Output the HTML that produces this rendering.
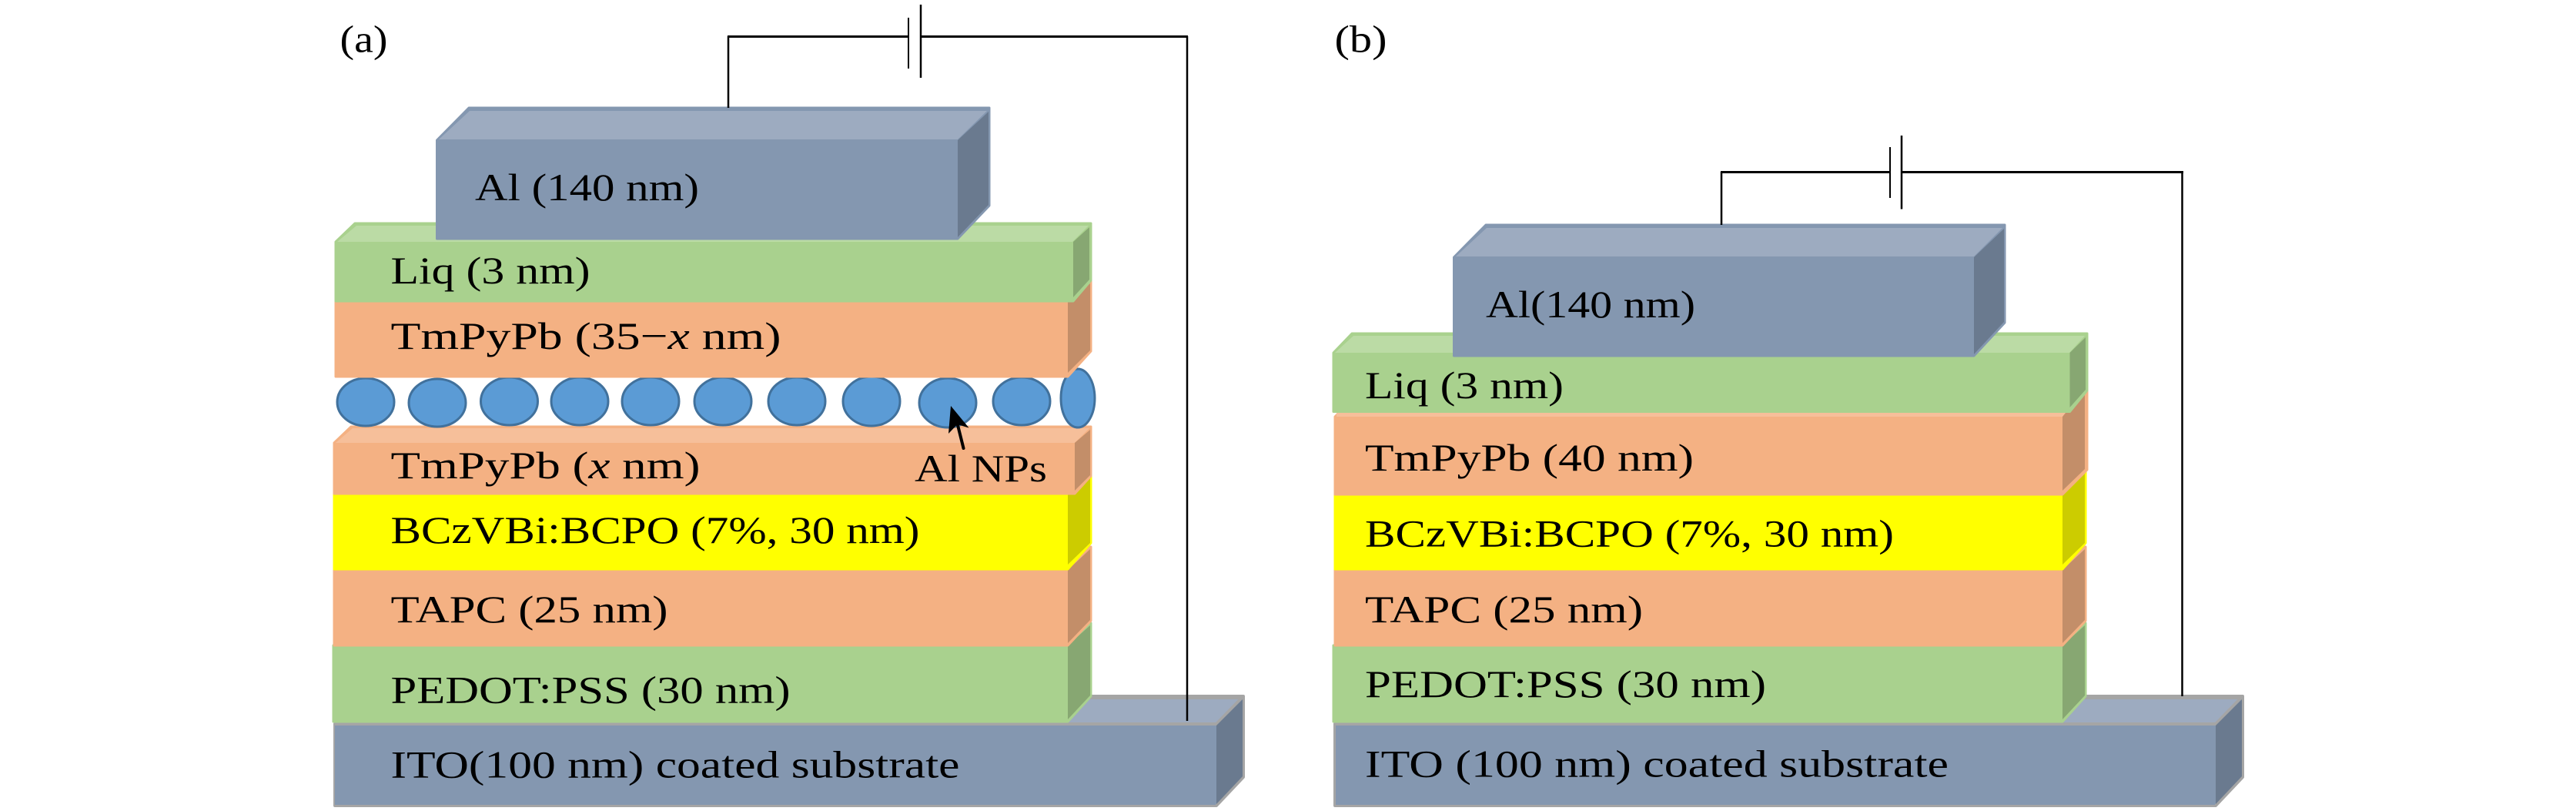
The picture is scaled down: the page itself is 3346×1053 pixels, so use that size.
<!DOCTYPE html>
<html>
<head>
<meta charset="utf-8">
<style>
html,body{margin:0;padding:0;background:#fff;}
svg{display:block;}
text{font-family:"Liberation Serif",serif;font-size:50px;fill:#000;}
</style>
</head>
<body>
<svg width="3346" height="1053" viewBox="0 0 3346 1053" xmlns="http://www.w3.org/2000/svg">
<rect width="3346" height="1053" fill="#fff"/>

<!-- PANEL A -->
<g stroke-linejoin="round">
<!-- ITO -->
<path d="M435 940 L470 904 H1615 V1009 L1580 1046 H435 Z" fill="#8497b0" stroke="#a5a5a5" stroke-width="4"/>
<path d="M435 940 L470 906 H1613 L1580 940 Z" fill="#9dabc0" stroke="#a5a5a5" stroke-width="4"/>
<path d="M1580 942 L1614 908 V1008 L1580 1044 Z" fill="#6a7a8f" stroke="none"/>
<rect x="435" y="942" width="1144" height="103" fill="#8497b0"/>
<!-- PEDOT -->
<path d="M433 838 L1417 809 V904 L1387 937 H433 Z" fill="#a9d18e" stroke="#a9d18e" stroke-width="3"/>
<path d="M1387 838 L1416 812 V903 L1387 934 Z" fill="#87a772"/>
<!-- TAPC -->
<path d="M434 739 L1417 710 V806 L1387 838 H434 Z" fill="#f4b183" stroke="#f4b183" stroke-width="3"/>
<path d="M1387 740 L1416 713 V805 L1387 835 Z" fill="#c38e69"/>
<!-- BCzVBi -->
<path d="M434 641 L1417 612 V705 L1387 739 H434 Z" fill="#ffff00" stroke="#ffff00" stroke-width="3"/>
<path d="M1387 642 L1416 615 V705 L1387 733 Z" fill="#cccc00"/>
<!-- TmPyPb x -->
<path d="M434 575 L456 554 H1417 V618 L1396 641 H434 Z" fill="#f4b183" stroke="#f4b183" stroke-width="3"/>
<path d="M436 575 L458 556 H1415 L1396 575 Z" fill="#f6bf9a"/>
<path d="M1396 575 L1416 558 V617 L1396 637 Z" fill="#c38e69"/>
<!-- NP ellipses -->
<g fill="#5b9bd5" stroke="#41719c" stroke-width="3">
<ellipse cx="475" cy="522" rx="37" ry="31"/>
<ellipse cx="568" cy="523" rx="37" ry="31"/>
<ellipse cx="661.500" cy="521" rx="37" ry="31"/>
<ellipse cx="753" cy="521" rx="37" ry="31"/>
<ellipse cx="845" cy="521" rx="37" ry="31"/>
<ellipse cx="939" cy="521" rx="37" ry="31"/>
<ellipse cx="1035" cy="521" rx="37" ry="31"/>
<ellipse cx="1132" cy="521" rx="37" ry="32"/>
<ellipse cx="1231" cy="523" rx="37" ry="32"/>
<ellipse cx="1327" cy="521" rx="37" ry="31"/>
<ellipse cx="1400" cy="517" rx="22" ry="38"/>
</g>
<!-- TmPyPb top -->
<path d="M436 391 L1417 365 V456 L1387 489 H436 Z" fill="#f4b183" stroke="#f4b183" stroke-width="3"/>
<path d="M1387 392 L1416 368 V455 L1387 484 Z" fill="#c38e69"/>
<!-- Liq a -->
<path d="M436 314 L461 290 H1417 V364 L1394 391 H436 Z" fill="#a9d18e" stroke="#a9d18e" stroke-width="3"/>
<path d="M438 314 L463 293 H1414 L1393 314 Z" fill="#bbdba5"/>
<path d="M1394 314 L1415 295 V363 L1394 386 Z" fill="#87a772"/>
<!-- Al a -->
<path d="M567.500 182 L609 140 H1285 V267 L1244 310 H567.500 Z" fill="#8497b0" stroke="#8497b0" stroke-width="3"/>
<path d="M570 181 L610 144 H1282 L1244 181 Z" fill="#9dabc0"/>
<path d="M1244 182 L1284 145 V266 L1244 308 Z" fill="#6a7a8f"/>
</g>
<!-- circuit a -->
<g fill="none" stroke="#000">
<path d="M946 140 V47" stroke-width="2.500"/>
<path d="M945 47.500 H1180 M1196 47.500 H1543" stroke-width="3"/>
<path d="M1542 47 V936" stroke-width="2.500"/>
<path d="M1180 23 V89" stroke-width="2"/>
<path d="M1196 6 V101" stroke-width="2.500"/>
</g>
<!-- arrow -->
<path d="M1251.500 582 L1243 548" stroke="#000" stroke-width="4" fill="none" stroke-linecap="round"/>
<path d="M1235 527 L1258.500 555.500 L1243.500 551 L1232 563 Z" fill="#000"/>

<!-- labels a -->
<text x="441.500" y="67.500" textLength="62" lengthAdjust="spacingAndGlyphs">(a)</text>
<text x="617" y="260" textLength="291" lengthAdjust="spacingAndGlyphs">Al (140 nm)</text>
<text x="507.500" y="368" textLength="259" lengthAdjust="spacingAndGlyphs">Liq (3 nm)</text>
<text x="507.500" y="453" textLength="507" lengthAdjust="spacingAndGlyphs">TmPyPb (35−<tspan font-style="italic">x</tspan> nm)</text>
<text x="507.500" y="621" textLength="402" lengthAdjust="spacingAndGlyphs">TmPyPb (<tspan font-style="italic">x</tspan> nm)</text>
<text x="1188" y="625" textLength="172" lengthAdjust="spacingAndGlyphs">Al NPs</text>
<text x="507.500" y="705" textLength="687" lengthAdjust="spacingAndGlyphs">BCzVBi:BCPO (7%, 30 nm)</text>
<text x="507.500" y="808" textLength="360" lengthAdjust="spacingAndGlyphs">TAPC (25 nm)</text>
<text x="507.500" y="912.500" textLength="519" lengthAdjust="spacingAndGlyphs">PEDOT:PSS (30 nm)</text>
<text x="507.500" y="1009.500" textLength="739" lengthAdjust="spacingAndGlyphs">ITO(100 nm) coated substrate</text>

<!-- PANEL B -->
<g stroke-linejoin="round">
<!-- ITO -->
<path d="M1734 940 L1770 904 H2913 V1009 L2878 1046 H1734 Z" fill="#8497b0" stroke="#a5a5a5" stroke-width="4"/>
<path d="M1734 940 L1770 906 H2911 L2878 940 Z" fill="#9dabc0" stroke="#a5a5a5" stroke-width="4"/>
<path d="M2878 942 L2912 908 V1008 L2878 1044 Z" fill="#6a7a8f"/>
<rect x="1735" y="942" width="1142" height="103" fill="#8497b0"/>
<!-- PEDOT -->
<path d="M1732 838 L2709 809 V904 L2679 937 H1732 Z" fill="#a9d18e" stroke="#a9d18e" stroke-width="3"/>
<path d="M2679 838 L2708 812 V903 L2679 934 Z" fill="#87a772"/>
<!-- TAPC -->
<path d="M1734 739 L2709 710 V806 L2679 838 H1734 Z" fill="#f4b183" stroke="#f4b183" stroke-width="3"/>
<path d="M2679 740 L2708 713 V805 L2679 835 Z" fill="#c38e69"/>
<!-- BCzVBi -->
<path d="M1734 642 L2709 612 V705 L2679 739 H1734 Z" fill="#ffff00" stroke="#ffff00" stroke-width="3"/>
<path d="M2679 643 L2708 615 V705 L2679 733 Z" fill="#cccc00"/>
<!-- TmPyPb -->
<path d="M1734 541 L1740 535 L2711 500 V610 L2679 642 H1734 Z" fill="#f4b183" stroke="#f4b183" stroke-width="3"/>
<rect x="1736" y="534" width="950" height="7" fill="#f6bf9a"/>
<path d="M2679 541 L2708 505 V609 L2679 637 Z" fill="#c38e69"/>
<!-- Liq -->
<path d="M1732 458 L1756 433 H2711 V507 L2688.500 534.500 H1732 Z" fill="#a9d18e" stroke="#a9d18e" stroke-width="3"/>
<path d="M1734 458 L1758 436 H2708 L2688 458 Z" fill="#bbdba5"/>
<path d="M2688.500 458 L2709 438 V506 L2688.500 529 Z" fill="#87a772"/>
<!-- Al -->
<path d="M1888.500 334 L1930 292 H2604 V419 L2564 462 H1888.500 Z" fill="#8497b0" stroke="#8497b0" stroke-width="3"/>
<path d="M1891 333 L1931 296 H2601 L2564 333 Z" fill="#9dabc0"/>
<path d="M2564 334 L2603 297 V418 L2564 460 Z" fill="#6a7a8f"/>
</g>
<!-- circuit b -->
<g fill="none" stroke="#000">
<path d="M2236 292 V223" stroke-width="2.500"/>
<path d="M2235 223.500 H2455 M2470 223.500 H2836" stroke-width="3"/>
<path d="M2834.500 223 V904" stroke-width="2.500"/>
<path d="M2455 191 V257" stroke-width="2"/>
<path d="M2470 176 V271.500" stroke-width="2.500"/>
</g>

<!-- labels b -->
<text x="1733.500" y="67.500" textLength="68" lengthAdjust="spacingAndGlyphs">(b)</text>
<text x="1930" y="412" textLength="272" lengthAdjust="spacingAndGlyphs">Al(140 nm)</text>
<text x="1773" y="517" textLength="258" lengthAdjust="spacingAndGlyphs">Liq (3 nm)</text>
<text x="1773" y="611" textLength="427" lengthAdjust="spacingAndGlyphs">TmPyPb (40 nm)</text>
<text x="1773" y="709.500" textLength="687" lengthAdjust="spacingAndGlyphs">BCzVBi:BCPO (7%, 30 nm)</text>
<text x="1773" y="808" textLength="361" lengthAdjust="spacingAndGlyphs">TAPC (25 nm)</text>
<text x="1773" y="905" textLength="521" lengthAdjust="spacingAndGlyphs">PEDOT:PSS (30 nm)</text>
<text x="1773" y="1008.500" textLength="758" lengthAdjust="spacingAndGlyphs">ITO (100 nm) coated substrate</text>
</svg>
</body>
</html>
